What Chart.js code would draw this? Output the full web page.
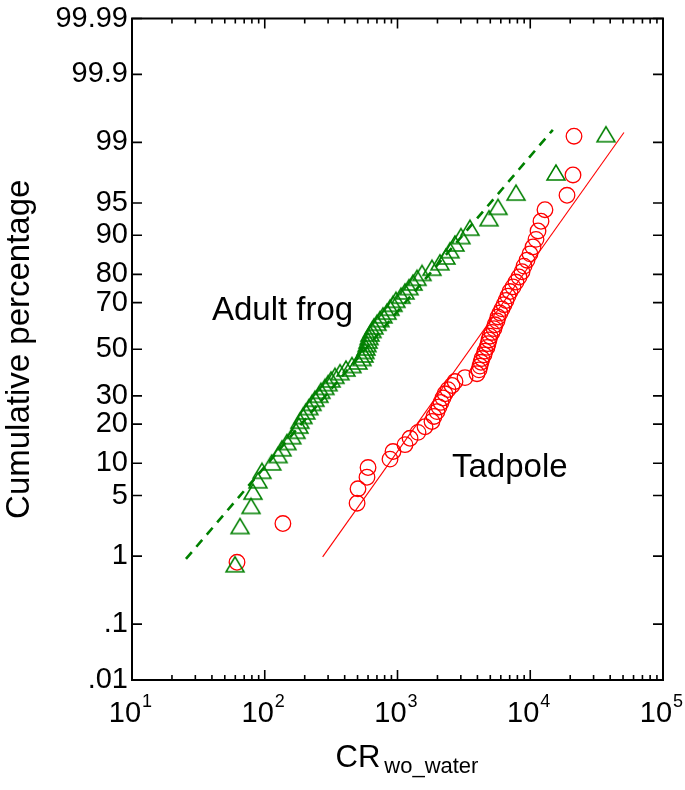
<!DOCTYPE html>
<html><head><meta charset="utf-8">
<script src="https://cdn.jsdelivr.net/npm/chart.js@4.4.0/dist/chart.umd.min.js"></script>
<style>html,body{margin:0;padding:0;background:#fff;}#wrap{width:685px;height:790px;}</style>
</head><body><div id="wrap"><canvas id="c" width="685" height="790"></canvas></div>
<script>
// ---- data ----
const frogCR = [59.7, 65.1, 78.8, 81.5, 88.9, 95.3, 113, 126, 135, 147, 160, 172, 181, 184, 194, 204,
  215, 227, 239, 256, 265, 284, 300, 316, 338, 369, 409, 454, 504, 540, 559, 569,
  579, 589, 600, 610, 621, 643, 665, 701, 738, 778, 834, 878, 925, 974, 1063, 1139,
  1221, 1309, 1403, 1530, 1819, 2090, 2319, 2486, 2711, 3008, 3516, 4890, 5716, 7812, 15630, 37200];
const frogPct = [0.78, 2.34, 3.91, 5.47, 7.03, 8.59, 10.16, 11.72, 13.28, 14.84, 16.41, 17.97, 19.53, 21.09, 22.66, 24.22,
  25.78, 27.34, 28.91, 30.47, 32.03, 33.59, 35.16, 36.72, 38.28, 39.84, 41.41, 42.97, 44.53, 46.09, 47.66, 49.22,
  50.78, 52.34, 53.91, 55.47, 57.03, 58.59, 60.16, 61.72, 63.28, 64.84, 66.41, 67.97, 69.53, 71.09, 72.66, 74.22,
  75.78, 77.34, 78.91, 80.47, 82.03, 83.59, 85.16, 86.72, 88.28, 89.84, 91.41, 92.97, 94.53, 96.09, 97.66, 99.22];
const tadCR = [61.8, 137, 496, 504, 589, 600, 878, 925, 1139, 1243, 1427, 1612, 1819, 1883, 1984, 2054,
  2126, 2201, 2279, 2401, 2573, 2711, 3225, 3971, 4111, 4183, 4256, 4330, 4483, 4562,
  4722, 4805, 4890, 4975, 5150, 5333, 5426, 5617, 5716, 5918, 6127, 6343, 6567, 6798, 7038, 7417,
  7812, 8230, 8669, 8975, 9452, 9956, 10490, 11050, 11440, 12050, 12910, 18920, 20990, 21360];
const tadPct = [0.83, 2.50, 4.17, 5.83, 7.50, 9.17, 10.83, 12.50, 14.17, 15.83, 17.50, 19.17, 20.83, 22.50, 24.17, 25.83,
  27.50, 29.17, 30.83, 32.50, 34.17, 35.83, 37.50, 39.17, 40.83, 42.50, 44.17, 45.83, 47.50, 49.17,
  50.83, 52.50, 54.17, 55.83, 57.50, 59.17, 60.83, 62.50, 64.17, 65.83, 67.50, 69.17, 70.83, 72.50, 74.17, 75.83,
  77.50, 79.17, 80.83, 82.50, 84.17, 85.83, 87.50, 89.17, 90.83, 92.50, 94.17, 95.83, 97.50, 99.17];
const frogFitCR = [25.5, 14800];
const frogFitPct = [0.92, 99.32];
const tadFitCR = [273, 50800];
const tadFitPct = [0.98, 99.26];
const yTickPct = [0.01, 0.1, 1, 5, 10, 20, 30, 50, 70, 80, 90, 95, 99, 99.9, 99.99];
const yTickLabels = ['.01', '.1', '1', '5', '10', '20', '30', '50', '70', '80', '90', '95', '99', '99.9', '99.99'];
const xTickExp = [1, 2, 3, 4, 5];
const labelFrog = {text: 'Adult frog', x: 40, pct: 62.9};
const labelTad = {text: 'Tadpole', x: 2573, pct: 7.48};

const FONT = '"Liberation Sans", Arial, Helvetica, sans-serif';
const GREEN = '#008000', RED = '#ff0000';

// inverse normal CDF (Acklam)
function probit(p) {
  const a=[-3.969683028665376e+01,2.209460984245205e+02,-2.759285104469687e+02,1.383577518672690e+02,-3.066479806614716e+01,2.506628277459239e+00];
  const b=[-5.447609879822406e+01,1.615858368580409e+02,-1.556989798598866e+02,6.680131188771972e+01,-1.328068155288572e+01];
  const c=[-7.784894002430293e-03,-3.223964580411365e-01,-2.400758277161838e+00,-2.549671010466244e+00,4.374664141464968e+00,2.938163982698783e+00];
  const d=[7.784695709041462e-03,3.224671290700398e-01,2.445134137142996e+00,3.754408661907416e+00];
  const pl=0.02425, ph=1-pl; let q, r;
  if (p < pl) { q=Math.sqrt(-2*Math.log(p)); return (((((c[0]*q+c[1])*q+c[2])*q+c[3])*q+c[4])*q+c[5])/((((d[0]*q+d[1])*q+d[2])*q+d[3])*q+1); }
  if (p <= ph) { q=p-0.5; r=q*q; return (((((a[0]*r+a[1])*r+a[2])*r+a[3])*r+a[4])*r+a[5])*q/(((((b[0]*r+b[1])*r+b[2])*r+b[3])*r+b[4])*r+1); }
  q=Math.sqrt(-2*Math.log(1-p)); return -(((((c[0]*q+c[1])*q+c[2])*q+c[3])*q+c[4])*q+c[5])/((((d[0]*q+d[1])*q+d[2])*q+d[3])*q+1);
}
const pts = (xs, ps) => xs.map((x, i) => ({x: x, y: probit(ps[i] / 100)}));
const yMin = probit(0.0001), yMax = probit(0.9999);

// open triangle marker centred on its bounding box
const tri = document.createElement('canvas');
tri.width = 22; tri.height = 19;
(function () {
  const t = tri.getContext('2d');
  t.strokeStyle = GREEN; t.lineWidth = 1.5; t.lineJoin = 'miter';
  t.beginPath(); t.moveTo(11, 2); t.lineTo(2, 17); t.lineTo(20, 17); t.closePath(); t.stroke();
})();

const decor = {
  id: 'decor',
  afterDraw(chart) {
    const ctx = chart.ctx, xs = chart.scales.x, ys = chart.scales.y, a = chart.chartArea;
    ctx.save();
    ctx.strokeStyle = '#000';
    ctx.lineWidth = 1.6;
    ctx.beginPath();
    for (let e = 1; e <= 4; e++) {
      for (let m = 1; m <= 9; m++) {
        const px = xs.getPixelForValue(m * Math.pow(10, e));
        const len = m === 1 ? 10 : 5;
        ctx.moveTo(px, a.bottom); ctx.lineTo(px, a.bottom - len);
        ctx.moveTo(px, a.top); ctx.lineTo(px, a.top + len);
      }
    }
    yTickPct.forEach(p => {
      const py = ys.getPixelForValue(probit(p / 100));
      ctx.moveTo(a.left, py); ctx.lineTo(a.left + 10, py);
      ctx.moveTo(a.right, py); ctx.lineTo(a.right - 10, py);
    });
    ctx.stroke();
    ctx.lineWidth = 2;
    ctx.strokeRect(a.left, a.top, a.right - a.left, a.bottom - a.top);
    // x tick labels with superscript exponents
    ctx.fillStyle = '#000';
    ctx.textBaseline = 'alphabetic';
    ctx.textAlign = 'left';
    xTickExp.forEach(e => {
      const px = xs.getPixelForValue(Math.pow(10, e));
      ctx.font = '29px ' + FONT; const w1 = ctx.measureText('10').width;
      ctx.font = '18px ' + FONT; const w2 = ctx.measureText(String(e)).width;
      const x0 = px - (w1 + w2) / 2 - 2;
      ctx.font = '29px ' + FONT; ctx.fillText('10', x0, a.bottom + 42);
      ctx.font = '18px ' + FONT; ctx.fillText(String(e), x0 + w1 + 1, a.bottom + 27);
    });
    // x axis title with subscript
    ctx.font = '31px ' + FONT;
    const crX = 335.5;
    ctx.fillText('CR', crX, a.bottom + 87);
    const wCR = ctx.measureText('CR').width;
    ctx.font = '22px ' + FONT;
    ctx.fillText('wo_water', crX + wCR + 4, a.bottom + 93);
    // annotations
    ctx.font = '33px ' + FONT;
    [labelFrog, labelTad].forEach(l => {
      ctx.fillText(l.text, xs.getPixelForValue(l.x), ys.getPixelForValue(probit(l.pct / 100)));
    });
    ctx.restore();
  }
};

new Chart(document.getElementById('c'), {
  type: 'scatter',
  data: {
    datasets: [
      {label: 'Adult frog fit', data: pts(frogFitCR, frogFitPct), showLine: true, pointRadius: 0,
       borderColor: GREEN, borderWidth: 2.6, borderDash: [9, 7], fill: false},
      {label: 'Tadpole fit', data: pts(tadFitCR, tadFitPct), showLine: true, pointRadius: 0,
       borderColor: RED, borderWidth: 1.1, fill: false},
      {label: 'Adult frog', data: pts(frogCR, frogPct), pointStyle: tri, pointRadius: 10,
       borderColor: GREEN, backgroundColor: 'rgba(0,0,0,0)'},
      {label: 'Tadpole', data: pts(tadCR, tadPct), pointStyle: 'circle', pointRadius: 7.8,
       borderColor: RED, backgroundColor: 'rgba(0,0,0,0)', pointBorderWidth: 1.3, borderWidth: 1.3}
    ]
  },
  options: {
    responsive: false, animation: false, devicePixelRatio: 1,
    layout: {padding: {top: 15, right: 22, left: 0, bottom: 0}},
    plugins: {legend: {display: false}, tooltip: {enabled: false}},
    scales: {
      x: {
        type: 'logarithmic', min: 10, max: 100000,
        grid: {display: false, drawTicks: false}, border: {display: false},
        ticks: {display: false},
        afterFit: s => { s.height = 110; }
      },
      y: {
        type: 'linear', min: yMin, max: yMax,
        grid: {display: false, drawTicks: false}, border: {display: false},
        afterBuildTicks: s => { s.ticks = yTickPct.map(p => ({value: probit(p / 100)})); },
        ticks: {
          autoSkip: false, padding: 4, color: '#000',
          font: {family: FONT, size: 29, lineHeight: 1},
          callback: (v, i) => yTickLabels[i]
        },
        title: {display: true, text: 'Cumulative percentage', color: '#000',
                font: {family: FONT, size: 33, lineHeight: 1.2}, padding: 0},
        afterFit: s => { s.width = 132; }
      }
    }
  },
  plugins: [decor]
});
</script></body></html>
